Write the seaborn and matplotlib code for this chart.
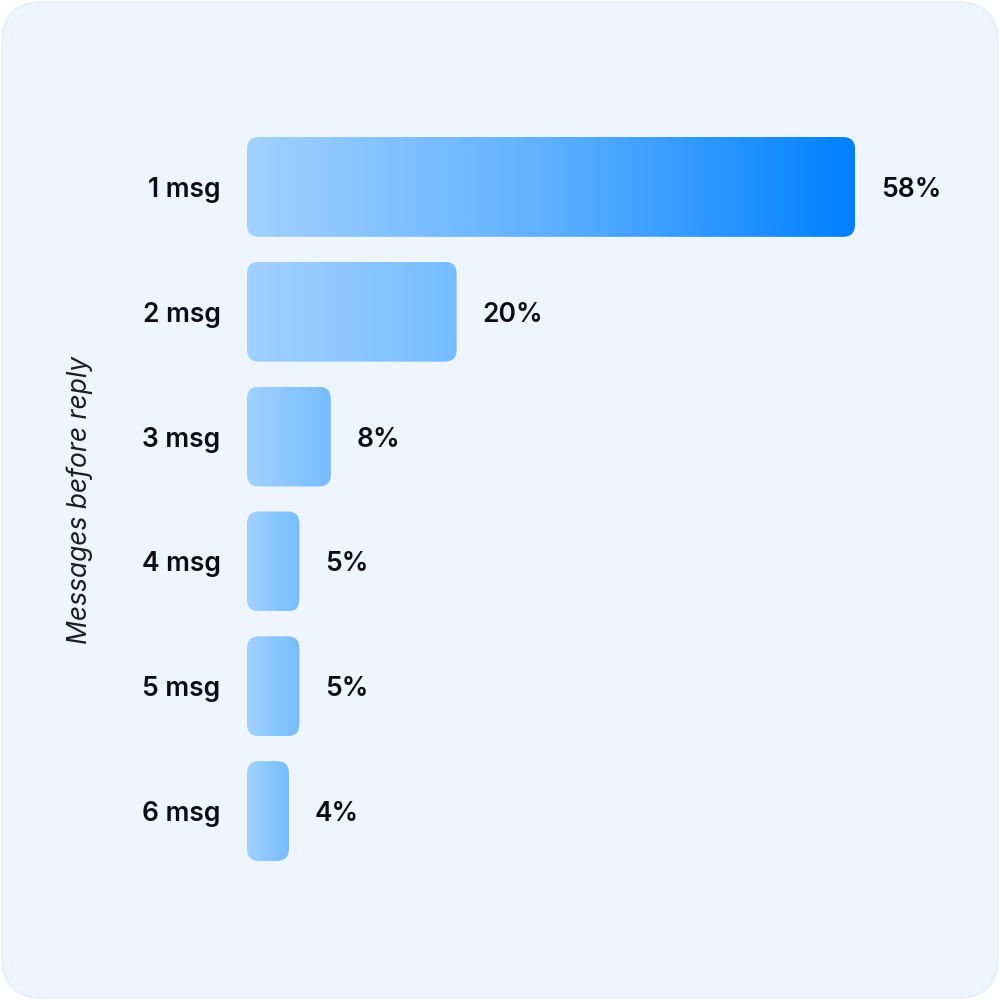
import numpy as np
import pandas as pd
import matplotlib
matplotlib.use("Agg")
import matplotlib.pyplot as plt
import seaborn as sns
from matplotlib.patches import FancyBboxPatch
from matplotlib.colors import LinearSegmentedColormap

# Data
categories = ["1 msg", "2 msg", "3 msg", "4 msg", "5 msg", "6 msg"]
shares = [58, 20, 8, 5, 5, 4]
value_labels = ["58%", "20%", "8%", "5%", "5%", "4%"]

df = pd.DataFrame({"messages": categories, "share": shares})

sns.set_theme(style="white")
plt.rcParams["font.family"] = ["Inter", "DejaVu Sans"]

fig = plt.figure(figsize=(10, 10), dpi=100)
fig.patch.set_facecolor("white")

# rounded card background
card = FancyBboxPatch((0.002, 0.002), 0.996, 0.996,
                      boxstyle="round,pad=0,rounding_size=0.04",
                      transform=fig.transFigure, facecolor="#eff5ff",
                      edgecolor="#e6ecf6", linewidth=1, zorder=-1)
fig.patches.append(card)

ax = fig.add_axes([0.247, 0.1265, 0.608, 0.749])
ax.set_facecolor("none")

sns.barplot(data=df, x="share", y="messages", orient="h", width=0.8,
            color="#7abfff", ax=ax)
ax.set_xlim(0, 58)
ax.set_ylim(5.5, -0.5)

# px -> data conversions for corner radius
px_x = 58 / 608.0
px_y = 6 / 749.0
radius_px = 12
r_x = radius_px * px_x
aspect = px_y / px_x

top_cmap = LinearSegmentedColormap.from_list("top", ["#a2d1ff", "#5eb0ff", "#0080ff"])
rest_cmap = LinearSegmentedColormap.from_list("rest", ["#a2d1ff", "#76bdff"])
grad = np.linspace(0, 1, 256).reshape(1, -1)

for i, bar in enumerate(list(ax.patches)):
    x0, y0 = bar.get_x(), bar.get_y()
    w, h = bar.get_width(), bar.get_height()
    bar.set_visible(False)
    shape = FancyBboxPatch((x0, y0), w, h,
                           boxstyle=f"round,pad=0,rounding_size={r_x}",
                           mutation_aspect=aspect, facecolor="none",
                           edgecolor="none", transform=ax.transData)
    ax.add_patch(shape)
    cmap = top_cmap if i == 0 else rest_cmap
    im = ax.imshow(grad, cmap=cmap, aspect="auto",
                   extent=(x0, x0 + w, y0 + h, y0), zorder=2,
                   interpolation="bicubic")
    im.set_clip_path(shape)
    ax.text(x0 + w + 26 * px_x, i, value_labels[i], ha="left",
            va="center_baseline", fontsize=19, fontweight="semibold",
            color="#0a0c16", clip_on=False)

ax.set_xlim(0, 58)
ax.set_ylim(5.5, -0.5)

ax.set_xticks([])
ax.set_xlabel("")
ax.set_ylabel("")
ax.tick_params(axis="y", length=0, pad=19)
for lbl in ax.get_yticklabels():
    lbl.set_fontsize(19)
    lbl.set_fontweight("semibold")
    lbl.set_color("#0a0c16")
    lbl.set_verticalalignment("center_baseline")
sns.despine(ax=ax, left=True, bottom=True)

fig.text(0.08, 0.5, "Messages before reply", rotation=90, ha="center",
         va="center", fontsize=19, fontstyle="italic", color="#1a1c28")

fig.savefig("out.png", dpi=100, facecolor="white")
